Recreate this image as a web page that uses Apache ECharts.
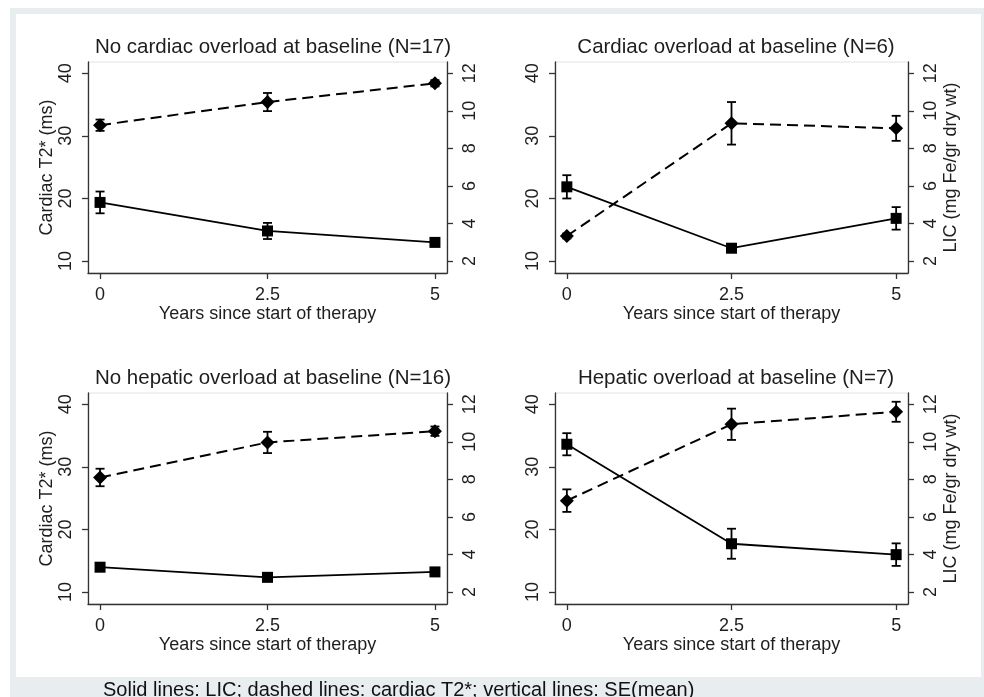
<!DOCTYPE html>
<html>
<head>
<meta charset="utf-8">
<script src="https://cdn.jsdelivr.net/npm/echarts@6/dist/echarts.min.js"></script>
<style>
  html, body { margin: 0; padding: 0; background: #fff; }
  #chart { width: 984px; height: 697px; }
</style>
</head>
<body>
<div id="chart"></div>
<script>
  // time points
  const years = [0, 2.5, 5]
  const xTicks = [0, 2.5, 5]
  const leftTicks = [10, 20, 30, 40]
  const rightTicks = [2, 4, 6, 8, 10, 12]

  const titles = [
    'No cardiac overload at baseline (N=17)',
    'Cardiac overload at baseline (N=6)',
    'No hepatic overload at baseline (N=16)',
    'Hepatic overload at baseline (N=7)'
  ]

  // cardiac T2* (ms): mean and SE
  const t2NoCardiac = [31.7, 35.4, 38.4]
  const t2NoCardiacSe = [0.9, 1.45, 0.5]
  const t2Cardiac = [14.0, 32.0, 31.2]
  const t2CardiacSe = [0.4, 3.4, 2.0]
  const t2NoHepatic = [28.3, 33.9, 35.7]
  const t2NoHepaticSe = [1.4, 1.7, 0.75]
  const t2Hepatic = [24.6, 36.8, 38.8]
  const t2HepaticSe = [1.8, 2.5, 1.6]

  // LIC (mg Fe/gr dry wt): mean and SE
  const licNoCardiac = [5.12, 3.6, 2.99]
  const licNoCardiacSe = [0.58, 0.43, 0.1]
  const licCardiac = [5.95, 2.68, 4.27]
  const licCardiacSe = [0.62, 0.1, 0.6]
  const licNoHepatic = [3.32, 2.78, 3.07]
  const licNoHepaticSe = [0.1, 0.1, 0.1]
  const licHepatic = [9.87, 4.57, 3.99]
  const licHepaticSe = [0.59, 0.8, 0.6]

  const t2All = [t2NoCardiac, t2Cardiac, t2NoHepatic, t2Hepatic]
  const t2SeAll = [t2NoCardiacSe, t2CardiacSe, t2NoHepaticSe, t2HepaticSe]
  const licAll = [licNoCardiac, licCardiac, licNoHepatic, licHepatic]
  const licSeAll = [licNoCardiacSe, licCardiacSe, licNoHepaticSe, licHepaticSe]

  const font = 'Liberation Sans, Arial, Helvetica, sans-serif'
  const ink = '#1e1e1e'

  const leftMin = 8.08, leftMax = 41.8
  // right axis is drawn so that 2..12 lines up with 10..40
  const rightMin = 2 + (leftMin - 10) / 3
  const rightMax = 2 + (leftMax - 10) / 3

  const grids = [
    {left: 88, top: 62, width: 359, height: 211},
    {left: 555, top: 62, width: 353, height: 211},
    {left: 88, top: 393, width: 359, height: 211},
    {left: 555, top: 393, width: 353, height: 211}
  ]
  const titlePos = [[273, 47], [736, 47], [273, 378], [736, 378]]

  let chart = echarts.init(document.getElementById('chart'))

  function errorBar(params, api) {
    const x = api.value(0)
    const lo = api.coord([x, api.value(1)])
    const hi = api.coord([x, api.value(2)])
    const w = 4.5
    const style = {stroke: '#000', lineWidth: 1.8}
    return {
      type: 'group',
      children: [
        {type: 'line', shape: {x1: lo[0], y1: lo[1], x2: hi[0], y2: hi[1]}, style: style},
        {type: 'line', shape: {x1: lo[0] - w, y1: lo[1], x2: lo[0] + w, y2: lo[1]}, style: style},
        {type: 'line', shape: {x1: hi[0] - w, y1: hi[1], x2: hi[0] + w, y2: hi[1]}, style: style}
      ]
    }
  }

  let xAxes = [], yAxes = [], series = [], graphics = []

  graphics.push({type: 'rect', z: -10, shape: {x: 10, y: 8, width: 974, height: 689}, style: {fill: '#e8eef0'}})
  graphics.push({type: 'rect', z: -9, shape: {x: 16, y: 14, width: 965, height: 663}, style: {fill: '#fff'}})

  const axisLine = {show: true, onZero: false, lineStyle: {color: '#333', width: 1.3}}
  const axisTickStyle = {show: true, length: 6, lineStyle: {color: '#333', width: 1.3}}

  grids.forEach((g, i) => {
    const isLeft = i % 2 == 0
    xAxes.push({
      type: 'value', gridIndex: i, min: -0.18, max: 5.18,
      axisLine: axisLine,
      axisTick: Object.assign({customValues: xTicks}, axisTickStyle),
      axisLabel: {customValues: xTicks, margin: 13, fontSize: 18, color: ink, fontFamily: font},
      splitLine: {show: false},
      name: 'Years since start of therapy', nameLocation: 'middle', nameGap: 32,
      nameTextStyle: {fontSize: 18, color: ink, fontFamily: font}
    })
    yAxes.push({
      type: 'value', gridIndex: i, position: 'left', min: leftMin, max: leftMax,
      axisLine: axisLine,
      axisTick: Object.assign({customValues: leftTicks}, axisTickStyle),
      axisLabel: {customValues: leftTicks, rotate: 90, margin: 13, fontSize: 18, color: ink, fontFamily: font},
      splitLine: {show: false},
      name: isLeft ? 'Cardiac T2* (ms)' : '', nameLocation: 'middle', nameRotate: 90, nameGap: 31,
      nameTextStyle: {fontSize: 18, color: ink, fontFamily: font}
    })
    yAxes.push({
      type: 'value', gridIndex: i, position: 'right', min: rightMin, max: rightMax,
      axisLine: axisLine,
      axisTick: Object.assign({customValues: rightTicks}, axisTickStyle),
      axisLabel: {customValues: rightTicks, rotate: 90, margin: 14, fontSize: 18, color: ink, fontFamily: font},
      splitLine: {show: false},
      name: isLeft ? '' : 'LIC (mg Fe/gr dry wt)', nameLocation: 'middle', nameRotate: 90, nameGap: 34,
      nameTextStyle: {fontSize: 18, color: ink, fontFamily: font}
    })

    const t2 = t2All[i], t2se = t2SeAll[i], lic = licAll[i], licse = licSeAll[i]

    series.push({
      type: 'custom', xAxisIndex: i, yAxisIndex: 2 * i, renderItem: errorBar,
      encode: {x: 0, y: [1, 2]}, z: 3,
      data: years.map((x, k) => [x, t2[k] - t2se[k], t2[k] + t2se[k]])
    })
    series.push({
      type: 'custom', xAxisIndex: i, yAxisIndex: 2 * i + 1, renderItem: errorBar,
      encode: {x: 0, y: [1, 2]}, z: 3,
      data: years.map((x, k) => [x, lic[k] - licse[k], lic[k] + licse[k]])
    })
    series.push({
      type: 'line', xAxisIndex: i, yAxisIndex: 2 * i, z: 4,
      data: years.map((x, k) => [x, t2[k]]),
      symbol: 'diamond', symbolSize: 14, showAllSymbol: true,
      lineStyle: {color: '#000', width: 2, type: [11, 6]},
      itemStyle: {color: '#000'}, animation: false
    })
    series.push({
      type: 'line', xAxisIndex: i, yAxisIndex: 2 * i + 1, z: 4,
      data: years.map((x, k) => [x, lic[k]]),
      symbol: 'rect', symbolSize: 11, showAllSymbol: true,
      lineStyle: {color: '#000', width: 1.8},
      itemStyle: {color: '#000'}, animation: false
    })

    graphics.push({
      type: 'text', x: titlePos[i][0], y: titlePos[i][1],
      style: {text: titles[i], fontSize: 20.5, fontFamily: font, fill: ink, align: 'center', verticalAlign: 'middle'}
    })
  })

  graphics.push({
    type: 'text', x: 103, y: 680,
    style: {text: 'Solid lines: LIC; dashed lines: cardiac T2*; vertical lines: SE(mean)', fontSize: 20, fontFamily: font, fill: '#111', align: 'left', verticalAlign: 'top'}
  })

  let option = {
    animation: false,
    backgroundColor: '#fff',
    grid: grids.map(g => Object.assign({show: true, borderColor: '#e2e2e2', borderWidth: 1, backgroundColor: 'transparent'}, g)),
    xAxis: xAxes,
    yAxis: yAxes,
    series: series,
    graphic: graphics
  }
  chart.setOption(option)
</script>
</body>
</html>
